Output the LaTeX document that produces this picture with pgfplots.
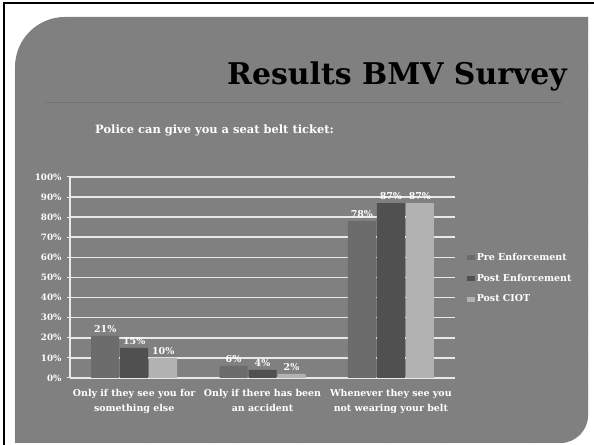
\documentclass[border=0pt]{standalone}
\usepackage{fontspec}
\setmainfont{DejaVu Serif}
\usepackage{pgfplots}
\pgfplotsset{compat=1.18}
\definecolor{bg}{gray}{0.5}
\definecolor{preC}{HTML}{6C6C6C}
\definecolor{postC}{HTML}{505050}
\definecolor{ciotC}{HTML}{B2B2B2}
\definecolor{gridC}{HTML}{E8E8E8}
\begin{document}
\begin{tikzpicture}[x=1bp,y=1bp]
\path[use as bounding box] (0,0) rectangle (594,445);
\fill[white] (0,0) rectangle (594,445);
\draw[black,line width=2.5bp] (4,0) -- (4,442) -- (594,442);
\fill[bg] (15,2) -- (15,378) arc[start angle=180,end angle=90,radius=50bp] -- (588,428) -- (588,30) arc[start angle=0,end angle=-90,radius=28bp] -- cycle;
\draw[black!60,line width=0.4bp,densely dotted] (15,2) -- (15,378) (588,428) -- (588,30) arc[start angle=0,end angle=-90,radius=28bp] -- (15,2);
\node[anchor=base east, font=\fontsize{30}{30}\selectfont\bfseries, text=black, inner sep=0pt] at (567,360) {Results BMV Survey};
\draw[black!55, line width=0.8bp] (45,343) -- (562,343);
\node[anchor=base west, font=\fontsize{11.5}{12}\selectfont\bfseries, text=white, inner sep=0pt] at (95,311) {Police can give you a seat belt ticket:};
\begin{axis}[
  at={(70bp,67bp)}, anchor=south west,
  scale only axis, width=385bp, height=201bp,
  xmin=-0.5, xmax=2.5, ymin=0, ymax=100,
  ybar=1bp, bar width=28bp,
  axis x line*=bottom, axis y line*=left,
  axis line style={gridC, line width=1.2bp},
  /pgf/number format/assume math mode=true,
  ytick={0,10,...,100},
  yticklabel={\pgfmathprintnumber{\tick}\%},
  ymajorgrids, major grid style={gridC, line width=1.6bp},
  xtick={0,1,2},
  xticklabels={{Only if they see you for\\something else},{Only if there has been\\an accident},{Whenever they see you\\not wearing your belt}},
  extra x ticks={-0.5,0.5,1.5,2.5}, extra x tick labels={},
  extra x tick style={major tick length=3bp, tick style={gridC, line width=1bp}},
  major x tick style={draw=none},
  major y tick style={gridC, line width=1bp},
  tick align=outside, major tick length=3bp,
  ticklabel style={font=\fontsize{8.8}{10}\selectfont\bfseries, text=white},
  yticklabel style={xshift=-2bp},
  xticklabel style={align=center, yshift=-5bp, font=\fontsize{9.5}{15}\selectfont\bfseries},
  nodes near coords={\pgfmathprintnumber{\pgfplotspointmeta}\%},
  every node near coord/.append style={font=\fontsize{9.5}{10}\selectfont\bfseries, text=white},
  legend style={at={(1.03,0.64)}, anchor=north west, draw=none, fill=none,
    font=\fontsize{9.5}{10}\selectfont\bfseries, text=white, row sep=8bp, inner xsep=0pt},
  legend cell align=left,
  legend image code/.code={\path[#1,draw=none] (0bp,-2.5bp) rectangle (8bp,2.5bp);},
]
\addplot[fill=preC, draw=none] coordinates {(0,21) (1,6) (2,78)};
\addplot[fill=postC, draw=none] coordinates {(0,15) (1,4) (2,87)};
\addplot[fill=ciotC, draw=none] coordinates {(0,10) (1,2) (2,87)};
\legend{Pre Enforcement,Post Enforcement,Post CIOT}
\end{axis}
\end{tikzpicture}
\end{document}
